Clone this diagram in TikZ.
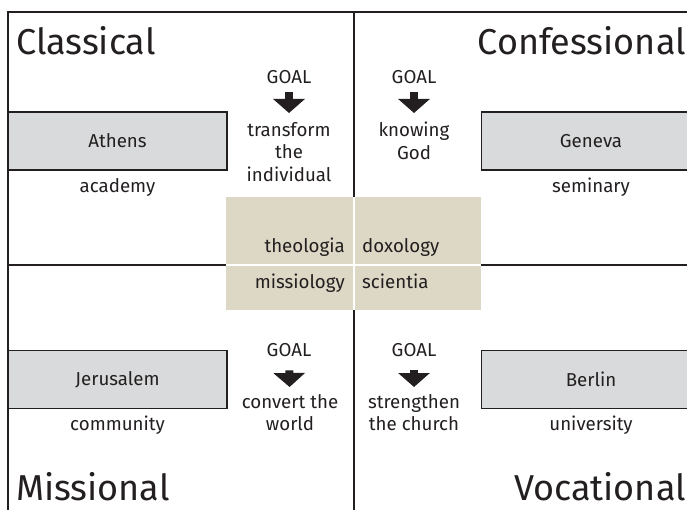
\documentclass[tikz,border=0pt]{standalone}
\usepackage{fontspec}
\setmainfont{Fira Sans}
\usetikzlibrary{arrows.meta, positioning}
\definecolor{inkdark}{HTML}{231F20}
\definecolor{boxgray}{HTML}{D9DADB}
\definecolor{beige}{HTML}{DDD8C5}

\begin{document}
\begin{tikzpicture}[
			x=1pt, y=-1pt,
			every node/.style={font=\fontsize{18.7}{22.5}\selectfont, text=inkdark, inner sep=0pt},
			title/.style={
				font=\fontsize{36}{43}\selectfont,
				anchor=base west
			},
			place/.style={
				rectangle,
				draw=inkdark,
				line width=1.2pt,
				fill=boxgray,
				minimum width=219pt,
				minimum height=58pt
			},
			caption/.style={text height=13pt, text depth=4pt},
			goal/.style={anchor=base},
			aim/.style={align=center, anchor=north},
			frame/.style={draw=inkdark, line width=2pt},
			goalarrow/.style={draw=inkdark, line width=8pt, -{Triangle[width=31pt,length=14pt]}}
			]
			
			\useasboundingbox (0,0) rectangle (687,510);
			
			% Frame
			\draw [frame] (8,510) -- (8,12) -- (687,12);
			\draw [frame] (354,12) -- (354,510);
			\draw [frame] (8,265) -- (687,265);
			
			% Centre block
			\fill [beige] (226,197) rectangle (481,310);
			\draw [white, line width=2pt] (354,197) -- (354,310);
			\draw [white, line width=2pt] (226,265) -- (481,265);
			
			% Nodes
			\node (classical) [title] at (16,55) {Classical};
			\node (confessional) [title, anchor=base east] at (686,55) {Confessional};
			\node (missional) [title] at (16,500) {Missional};
			\node (vocational) [title, anchor=base east] at (686,500) {Vocational};
			
			\node (athens) [place] at (117.5,141) {Athens};
			\node (geneva) [place] at (591,141) {Geneva};
			\node (jerusalem) [place] at (117.5,379.5) {Jerusalem};
			\node (berlin) [place] at (591,379.5) {Berlin};
			
			\node (academy) [caption, below=9pt of athens] {academy};
			\node (seminary) [caption, below=9pt of geneva] {seminary};
			\node (community) [caption, below=8pt of jerusalem] {community};
			\node (university) [caption, below=8pt of berlin] {university};
			
			\node (goalA) [goal] at (289,84) {GOAL};
			\node (aimA) [aim] at (289,122) {transform\\the\\individual};
			\node (goalB) [goal] at (414,84) {GOAL};
			\node (aimB) [aim] at (414,122) {knowing\\God};
			\node (goalC) [goal] at (289,356) {GOAL};
			\node (aimC) [aim] at (290,394) {convert the\\world};
			\node (goalD) [goal] at (414,356) {GOAL};
			\node (aimD) [aim] at (414,394) {strengthen\\the church};
			
			\node (theologia) [anchor=base east] at (345,253) {theologia};
			\node (doxology) [anchor=base west] at (362,253) {doxology};
			\node (missiology) [anchor=base east] at (345,288) {missiology};
			\node (scientia) [anchor=base west] at (362,288) {scientia};
			
			% Arrows
			\draw [goalarrow, shorten <=8pt, shorten >=9pt] (goalA) -- (aimA);
			\draw [goalarrow, shorten <=8pt, shorten >=9pt] (goalB) -- (aimB);
			\draw [goalarrow, shorten <=14pt, shorten >=7pt] (goalC) -- (aimC);
			\draw [goalarrow, shorten <=14pt, shorten >=7pt] (goalD) -- (aimD);
			
		\end{tikzpicture}
\end{document}
